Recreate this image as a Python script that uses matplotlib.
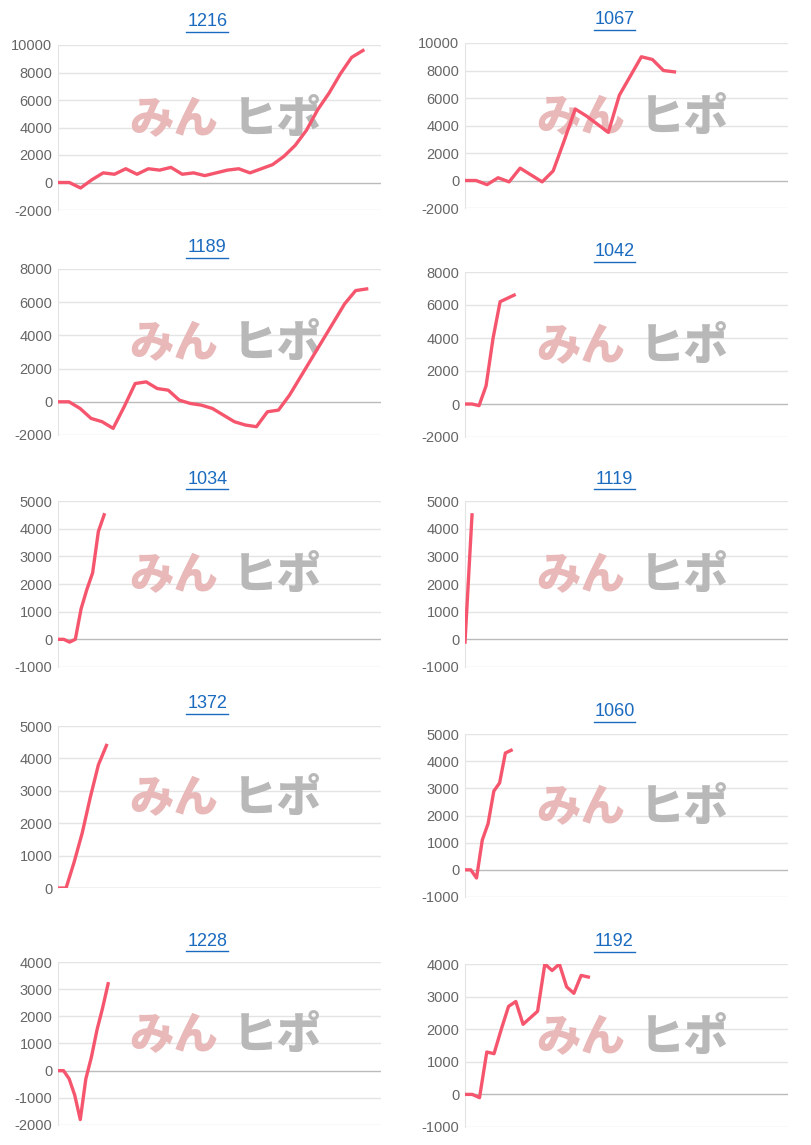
import matplotlib
matplotlib.use("Agg")
import matplotlib.pyplot as plt

titles = ["1216", "1067", "1189", "1042", "1034", "1119", "1372", "1060", "1228", "1192"]
v1216 = [0, 0, -400, 200, 700, 600, 1000, 600, 1000, 900, 1100, 600, 700, 500, 700, 900, 1000, 700, 1000, 1300, 1900, 2700, 3800, 5300, 6500, 7900, 9100, 9600]
v1067 = [0, 0, -300, 200, -100, 900, 400, -100, 700, 2900, 5200, 4700, 4100, 3500, 6200, 7600, 9000, 8800, 8000, 7900]
v1189 = [0, 0, -400, -1000, -1200, -1600, -300, 1100, 1200, 800, 700, 100, -100, -200, -400, -800, -1200, -1400, -1500, -600, -500, 400, 1500, 2600, 3700, 4800, 5900, 6700, 6800]
v1042 = [0, 0, -100, 1100, 4000, 6200, 6400, 6600]
v1034 = [0, 0, -100, 0, 1100, 1800, 2400, 3900, 4500]
v1119 = [-100, 4500]
v1372 = [0, 0, 800, 1700, 2800, 3800, 4400]
v1060 = [0, 0, -300, 1100, 1700, 2900, 3200, 4300, 4400]
v1228 = [0, 0, -300, -900, -1800, -300, 500, 1500, 2300, 3200]
v1192 = [0, 0, -100, 1300, 1250, 2000, 2700, 2850, 2150, 2350, 2550, 4000, 3800, 4000, 3300, 3100, 3650, 3600]
series = [v1216, v1067, v1189, v1042, v1034, v1119, v1372, v1060, v1228, v1192]
yranges = [(-2000, 10000, 2000), (-2000, 10000, 2000), (-2000, 8000, 2000), (-2000, 8000, 2000),
           (-1000, 5000, 1000), (-1000, 5000, 1000), (0, 5000, 1000), (-1000, 5000, 1000),
           (-2000, 4000, 1000), (-1000, 4000, 1000)]
slots = [28.6, 29.3, 29.3, 46, 56, 46, 40, 56, 58, 44.5]

W, H = 812, 1145
geo = [(58, 45, 210, 22), (465, 43, 208, 20),
       (58, 269, 435, 248), (465, 272, 437, 252),
       (58, 501, 667, 479), (465, 501, 667, 479),
       (58, 726, 888, 704), (465, 734, 897, 712),
       (58, 962, 1125, 941), (465, 964, 1127, 942)]
width = 323
FONT = ["Liberation Sans", "DejaVu Sans"]

fig = plt.figure(figsize=(W / 100, H / 100), dpi=100)
for i in range(10):
    l, t, b, ty = geo[i]
    ax = fig.add_axes([l / W, 1 - b / H, width / W, (b - t) / H])
    lo, hi, st = yranges[i]
    ax.set_ylim(lo, hi)
    ax.set_xlim(0, slots[i])
    ticks = list(range(lo, hi + 1, st))
    ax.set_yticks(ticks)
    ax.set_yticklabels([str(v) for v in ticks], fontsize=10.5, color="#666666", family=FONT)
    ax.set_xticks([])
    for y in ticks:
        ax.axhline(y, color="#bbbbbb" if y == 0 else "#e4e4e4", lw=1, zorder=0)
    for s in ["top", "right", "bottom"]:
        ax.spines[s].set_visible(False)
    ax.spines["left"].set_color("#e4e4e4")
    ax.tick_params(axis="y", length=0, pad=4)
    ax.text(0.22, 0.55, "みん", transform=ax.transAxes, fontsize=32, fontweight="heavy",
            color="#e9b8b8", family=["Noto Sans CJK JP"], va="center", zorder=1)
    ax.text(0.54, 0.55, "ヒポ", transform=ax.transAxes, fontsize=32, fontweight="heavy",
            color="#b8b8b8", family=["Noto Sans CJK JP"], va="center", zorder=1)
    ax.plot(range(len(series[i])), series[i], color="#f5566e", lw=2.4, zorder=3)
    cx = l + width / 2 - 12
    fig.text(cx / W, 1 - ty / H, titles[i], ha="center", va="center",
             fontsize=13, color="#1a6bbf", family=FONT)
    fig.add_artist(plt.Line2D([(cx - 21) / W, (cx + 21) / W],
                              [1 - (ty + 10) / H] * 2, color="#1a6bbf", lw=1))
fig.savefig("out.png", dpi=100, facecolor="white")
